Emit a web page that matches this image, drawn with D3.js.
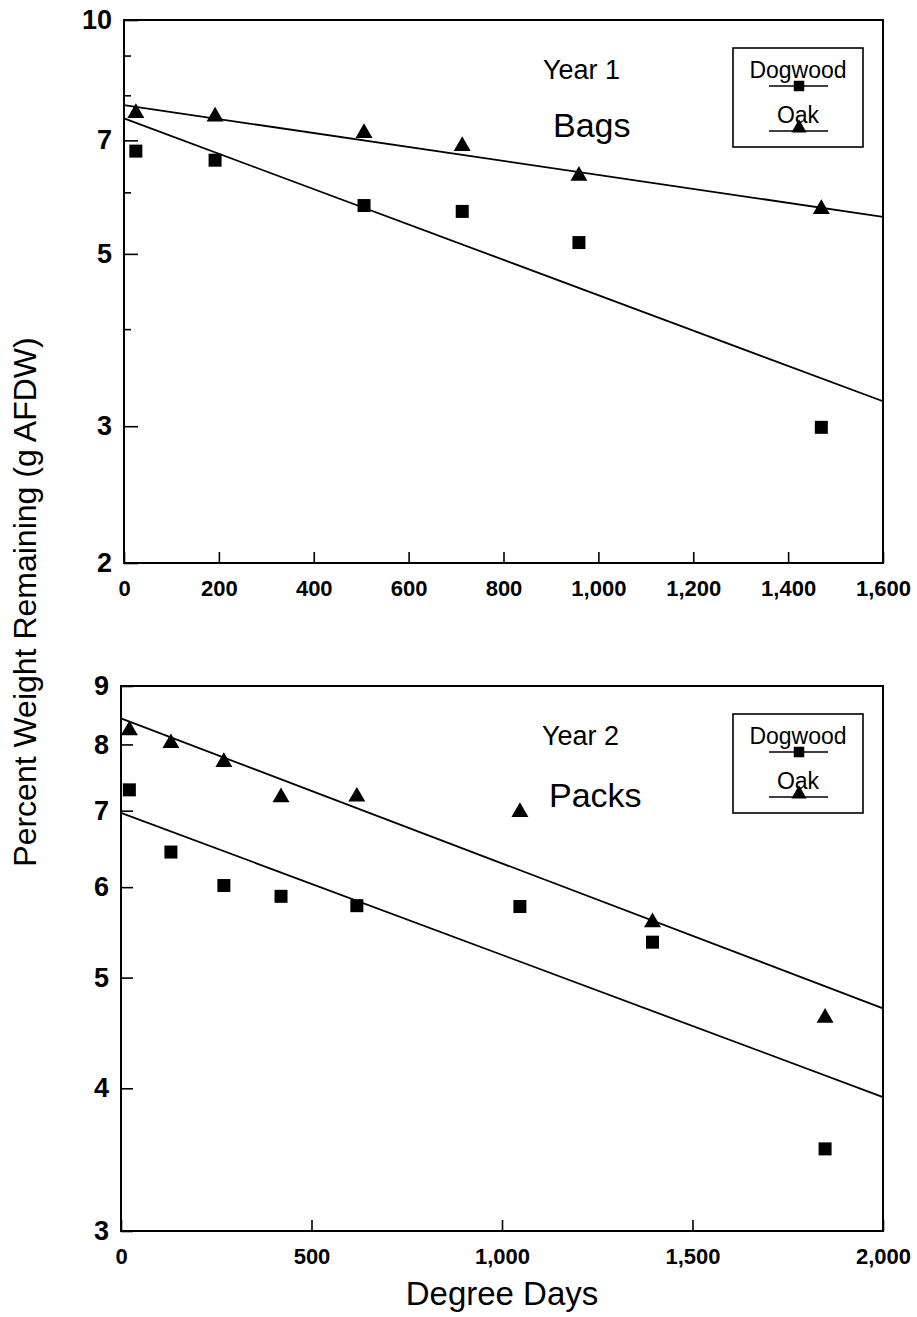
<!DOCTYPE html>
<html>
  <head>
    <meta charset="utf-8" />
    <title>Percent Weight Remaining</title>
    <style>
      body{
        margin: 0;
        background: white;
        font-family: 'Liberation Sans', Arial, sans-serif;
      }
      .axis path{
        display: none;
      }
      .axis line{
        stroke: black;
        stroke-width: 1.6;
      }
      .axis text{
        fill: black;
        font-family: 'Liberation Sans', Arial, sans-serif;
      }
      .fit{
        fill: none;
        stroke: black;
        stroke-width: 1.8;
      }
    </style>
  </head>

  <body>
    <script src="https://d3js.org/d3.v7.min.js"></script>
    <svg id="chart"></svg>
    <script>
      // Year 1, bags
      var year1Days = [25, 192, 506, 713, 959, 1470];
      var year1Dogwood = [6.78, 6.6, 5.77, 5.67, 5.17, 2.99];
      var year1Oak = [7.59, 7.51, 7.15, 6.88, 6.3, 5.71];
      var year1FitDays = [0, 1600];
      var year1FitDogwood = [7.47, 3.23];
      var year1FitOak = [7.77, 5.58];
      var year1XTicks = [0, 200, 400, 600, 800, 1000, 1200, 1400, 1600];
      var year1YTicks = [2, 3, 4, 5, 6, 7, 8, 9, 10];
      var year1YLabels = [2, 3, 5, 7, 10];

      // Year 2, packs
      var year2Days = [22, 131, 270, 420, 619, 1047, 1395, 1848];
      var year2Dogwood = [7.3, 6.44, 6.02, 5.89, 5.78, 5.77, 5.37, 3.54];
      var year2Oak = [8.23, 8.02, 7.72, 7.19, 7.2, 6.98, 5.59, 4.61];
      var year2FitDays = [0, 2000];
      var year2FitDogwood = [6.97, 3.93];
      var year2FitOak = [8.43, 4.7];
      var year2XTicks = [0, 500, 1000, 1500, 2000];
      var year2YTicks = [3, 4, 5, 6, 7, 8, 9];
      var year2YLabels = [3, 4, 5, 6, 7, 8, 9];

      var seriesNames = ["Dogwood", "Oak"];

      var width = 917;
      var height = 1317;

      var svg = d3.select("#chart")
        .attr("width", width)
        .attr("height", height);

      var panels = [
        {
          left: 124, right: 883, top: 20, bottom: 563,
          xDomain: [0, 1600], yDomain: [2, 10],
          days: year1Days, dogwood: year1Dogwood, oak: year1Oak,
          fitDays: year1FitDays, fitDogwood: year1FitDogwood, fitOak: year1FitOak,
          xTicks: year1XTicks, yTicks: year1YTicks, yLabels: year1YLabels,
          minorTick: 7, majorTick: 14,
          year: "Year 1", yearX: 543, kind: "Bags", kindX: 553, kindY: 117
        },
        {
          left: 121, right: 883, top: 686, bottom: 1231,
          xDomain: [0, 2000], yDomain: [3, 9],
          days: year2Days, dogwood: year2Dogwood, oak: year2Oak,
          fitDays: year2FitDays, fitDogwood: year2FitDogwood, fitOak: year2FitOak,
          xTicks: year2XTicks, yTicks: year2YTicks, yLabels: year2YLabels,
          minorTick: 12, majorTick: 12,
          year: "Year 2", yearX: 542, kind: "Packs", kindX: 549, kindY: 121
        }
      ];

      var square = d3.symbol().type(d3.symbolSquare);
      var triangle = d3.symbol().type(d3.symbolTriangle);

      panels.forEach(function (p) {
        var x = d3.scaleLinear().domain(p.xDomain).range([p.left, p.right]);
        var y = d3.scaleLog().domain(p.yDomain).range([p.bottom, p.top]);

        var g = svg.append("g");

        // x axis, ticks pointing in
        var xAxis = g.append("g")
          .attr("class", "axis")
          .attr("transform", "translate(0," + p.bottom + ")")
          .call(d3.axisBottom(x)
            .tickValues(p.xTicks)
            .tickSize(-11)
            .tickPadding(17)
            .tickFormat(d3.format(",")));
        xAxis.selectAll("text").style("font-size", "22px").style("font-weight", "bold");

        // y axis, ticks pointing in
        var yAxis = g.append("g")
          .attr("class", "axis")
          .attr("transform", "translate(" + p.left + ",0)")
          .call(d3.axisLeft(y)
            .tickValues(p.yTicks)
            .tickSize(-p.minorTick)
            .tickPadding(12)
            .tickFormat(function (d) {
              return p.yLabels.indexOf(d) >= 0 ? d : "";
            }));
        yAxis.selectAll(".tick")
          .filter(function (d) { return p.yLabels.indexOf(d) >= 0; })
          .select("line")
          .attr("x2", p.majorTick);
        yAxis.selectAll("text").style("font-size", "27px").style("font-weight", "bold");

        // frame
        g.append("rect")
          .attr("x", p.left)
          .attr("y", p.top)
          .attr("width", p.right - p.left)
          .attr("height", p.bottom - p.top)
          .attr("fill", "none")
          .attr("stroke", "black")
          .attr("stroke-width", 2);

        // fitted lines
        var line = d3.line()
          .x(function (d) { return x(d[0]); })
          .y(function (d) { return y(d[1]); });

        g.append("path")
          .attr("class", "fit")
          .attr("d", line(d3.zip(p.fitDays, p.fitOak)));
        g.append("path")
          .attr("class", "fit")
          .attr("d", line(d3.zip(p.fitDays, p.fitDogwood)));

        // points
        g.selectAll(".dogwood")
          .data(d3.zip(p.days, p.dogwood))
          .enter()
          .append("path")
          .attr("class", "dogwood")
          .attr("d", square.size(169))
          .attr("transform", function (d) {
            return "translate(" + x(d[0]) + "," + y(d[1]) + ")";
          })
          .attr("fill", "black");

        g.selectAll(".oak")
          .data(d3.zip(p.days, p.oak))
          .enter()
          .append("path")
          .attr("class", "oak")
          .attr("d", triangle.size(125))
          .attr("transform", function (d) {
            return "translate(" + x(d[0]) + "," + y(d[1]) + ")";
          })
          .attr("fill", "black");

        // panel labels
        g.append("text")
          .attr("x", p.yearX)
          .attr("y", p.top + 59)
          .style("font-size", "27px")
          .text(p.year);
        g.append("text")
          .attr("x", p.kindX)
          .attr("y", p.top + p.kindY)
          .style("font-size", "34px")
          .text(p.kind);

        // legend
        var lg = g.append("g").attr("transform", "translate(733," + (p.top + 28) + ")");
        lg.append("rect")
          .attr("width", 130)
          .attr("height", 99)
          .attr("fill", "white")
          .attr("stroke", "black")
          .attr("stroke-width", 1.6);

        seriesNames.forEach(function (name, i) {
          var row = lg.append("g").attr("transform", "translate(0," + (i * 45) + ")");
          row.append("text")
            .attr("x", 65)
            .attr("y", 30)
            .attr("text-anchor", "middle")
            .style("font-size", "23px")
            .text(name);
          row.append("line")
            .attr("x1", 36)
            .attr("x2", 95)
            .attr("y1", 38)
            .attr("y2", 38)
            .attr("stroke", "black")
            .attr("stroke-width", 1.6);
          row.append("path")
            .attr("d", i === 0 ? square.size(110) : triangle.size(100))
            .attr("transform", "translate(66," + (i === 0 ? 38 : 35) + ")")
            .attr("fill", "black");
        });
      });

      // shared axis titles
      svg.append("text")
        .attr("x", 502)
        .attr("y", 1305)
        .attr("text-anchor", "middle")
        .style("font-size", "33px")
        .text("Degree Days");

      svg.append("text")
        .attr("transform", "translate(36,602) rotate(-90)")
        .attr("text-anchor", "middle")
        .style("font-size", "32px")
        .text("Percent Weight Remaining (g AFDW)");
    </script>
  </body>
</html>
